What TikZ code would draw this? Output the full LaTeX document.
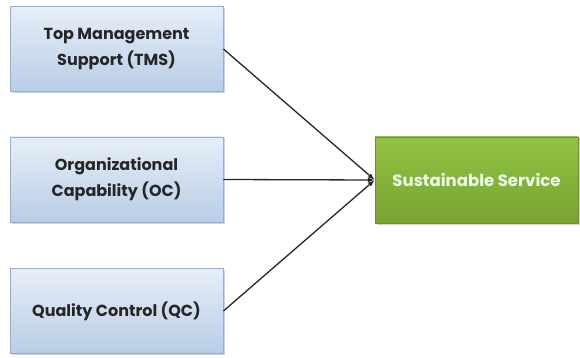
\documentclass[tikz,border=0pt]{standalone}
\usepackage{fontspec}
\setmainfont{Poppins}
\usetikzlibrary{shadows,arrows.meta}
\definecolor{bluetop}{HTML}{E6EEF8}
\definecolor{bluebot}{HTML}{B9CDE6}
\definecolor{blueedge}{HTML}{8EAEDB}
\definecolor{greentop}{HTML}{92C244}
\definecolor{greenbot}{HTML}{76A42F}
\tikzset{
  x=1pt,y=-1pt,
  inbox/.style={draw=blueedge, line width=0.8pt, top color=bluetop, bottom color=bluebot,
    minimum width=213pt, minimum height=85pt, align=center, font=\bfseries\fontsize{16}{26}\selectfont,
    text=black!85, drop shadow={shadow xshift=1.5pt, shadow yshift=-1.5pt, opacity=0.35}},
  outbox/.style={draw=greenbot!90!black, line width=0.5pt, top color=greentop, bottom color=greenbot,
    minimum width=203pt, minimum height=86pt, align=center, font=\bfseries\fontsize{16.5}{20}\selectfont,
    text=white!92!green, drop shadow={shadow xshift=1.5pt, shadow yshift=-1.5pt, opacity=0.35}},
  conn/.style={line width=1.3pt, black!85, -{Latex[length=7pt,width=5pt]}}
}
\begin{document}
\begin{tikzpicture}
\useasboundingbox (0,0) rectangle (580,358);
\node[inbox] (tms) at (116.5,49) {Top Management\\Support (TMS)};
\node[inbox] (oc) at (116.5,179.5) {Organizational\\Capability (OC)};
\node[inbox] (qc) at (116.5,311) {Quality Control (QC)};
\node[outbox] (ss) at (476.5,180) {Sustainable Service};
\draw[conn] (tms.east) -- (ss.west);
\draw[conn] (oc.east) -- (ss.west);
\draw[conn] (qc.east) -- (ss.west);
\end{tikzpicture}
\end{document}
